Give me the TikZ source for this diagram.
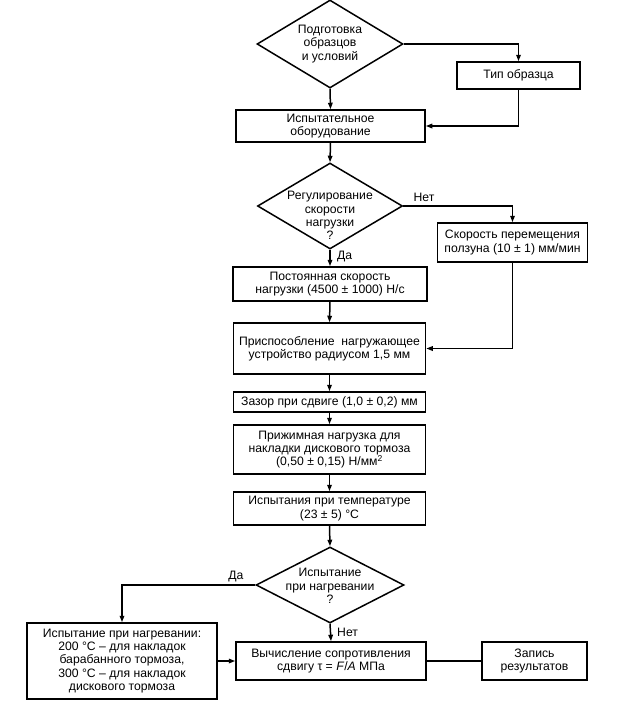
\documentclass[tikz,border=0pt]{standalone}
\usepackage{fontspec}
\setmainfont{Liberation Sans}
\usetikzlibrary{arrows.meta,shapes.geometric}
\begin{document}
\begin{tikzpicture}[x=1pt,y=-1pt,
  box/.style={draw,line width=1.5pt,inner sep=0pt,align=center,font=\fontsize{12.2}{13.4}\selectfont},
  dia/.style={draw,diamond,line width=1.5pt,inner sep=0pt},
  txt/.style={align=center,inner sep=0pt,font=\fontsize{12.2}{13.4}\selectfont},
  lab/.style={inner sep=0pt,font=\fontsize{12.2}{13.4}\selectfont},
  arr/.style={line width=1.5pt,-{Triangle[length=6.5pt,width=4.5pt]}},
  ln/.style={line width=1.5pt}
]
\fill[white] (0,0) rectangle (622,710);
\path[use as bounding box] (0,0) rectangle (622,710);

\node[dia,minimum width=146,minimum height=88] (d1) at (330,44) {};
\node[txt] (d1t) at (330,44) {Подготовка\\образцов\\и условий};
\node[box,minimum width=123,minimum height=27] (tip) at (518.5,75.5) {Тип образца};
\node[box,minimum width=189,minimum height=32] (equip) at (330.5,126) {Испытательное\\оборудование};
\node[dia,minimum width=145,minimum height=86] (d2) at (330,206) {};
\node[txt] (d2t) at (330,215.5) {Регулирование\\скорости\\нагрузки\\?};
\node[box,minimum width=150,minimum height=39] (slider) at (512.5,242.5) {Скорость перемещения\\ползуна (10 ± 1) мм/мин};
\node[box,minimum width=194,minimum height=34] (const) at (330,284) {Постоянная скорость\\нагрузки (4500 ± 1000) Н/с};
\node[box,minimum width=192,minimum height=51] (fix) at (329.5,348.5) {Приспособление \ нагружающее\\устройство радиусом 1,5 мм};
\node[box,minimum width=192,minimum height=20] (gap) at (329.5,402) {Зазор при сдвиге (1,0 ± 0,2) мм};
\node[box,minimum width=192,minimum height=49] (press) at (329.5,449.5) {Прижимная нагрузка для\\накладки дискового тормоза\\(0,50 ± 0,15) Н/мм\textsuperscript{2}};
\node[box,minimum width=192,minimum height=33] (temp) at (329.5,508.5) {Испытания при температуре\\(23 ± 5) °C};
\node[dia,minimum width=148,minimum height=76] (d3) at (330,585) {};
\node[txt] (d3t) at (330,586) {Испытание\\при нагревании\\?};
\node[box,minimum width=190,minimum height=76] (heat) at (122,661) {Испытание при нагревании:\\200 °C – для накладок\\барабанного тормоза,\\300 °C – для накладок\\дискового тормоза};
\node[box,minimum width=190,minimum height=38] (calc) at (331,661) {Вычисление сопротивления\\сдвигу τ = \textit{F}/\textit{A} МПа};
\node[box,minimum width=105,minimum height=38] (rec) at (534.5,661) {Запись\\результатов};

\draw[arr] (d1.south) -- (equip.north);
\draw[arr] (d1.east) -| (tip.north);
\draw[arr] (tip.south) |- (equip.east);
\draw[arr] (equip.south) -- (d2.north);
\draw[arr] (d2.east) -| (slider.north);
\node[lab] (no1) at (424,197) {Нет};
\draw[arr] (d2.south) -- (const.north);
\node[lab,anchor=west] (yes1) at (337,257) {Да};
\draw[arr] (slider.south) |- (fix.east);
\draw[arr] (const.south) -- (fix.north);
\draw[arr] (fix.south) -- (gap.north);
\draw[arr] (gap.south) -- (press.north);
\draw[arr] (press.south) -- (temp.north);
\draw[arr] (temp.south) -- (d3.north);
\draw[arr] (d3.west) -| (heat.north);
\node[lab] (yes2) at (236,577) {Да};
\draw[arr] (d3.south) -- (calc.north);
\node[lab,anchor=west] (no2) at (337,632) {Нет};
\draw[arr] (heat.east) -- (calc.west);
\draw[ln] (calc.east) -- (rec.west);
\end{tikzpicture}
\end{document}
